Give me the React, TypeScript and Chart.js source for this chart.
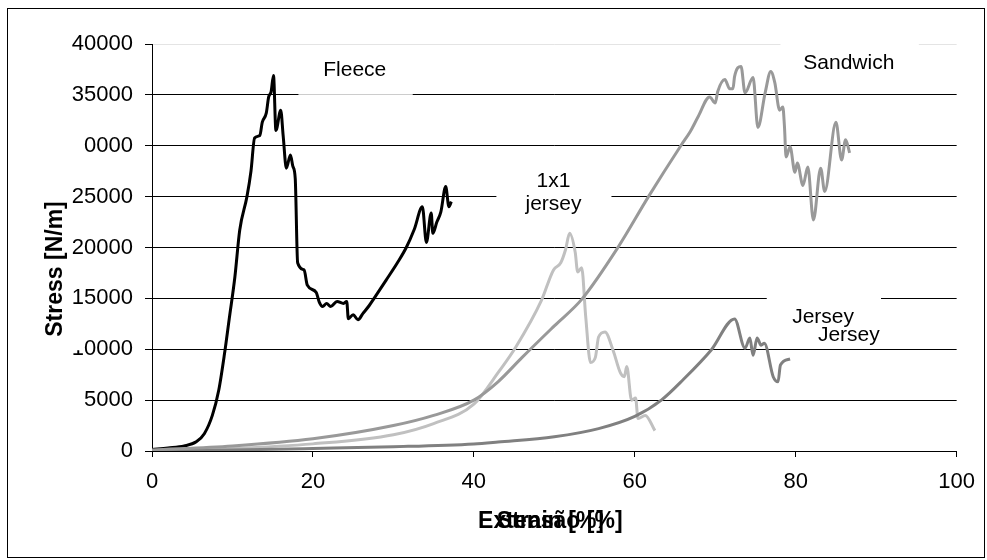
import React, { useEffect, useRef } from "react";
import { Chart, registerables } from "chart.js";

Chart.register(...registerables);

// ---- data ----
const fleeceStrain = [0, 2, 4, 5.5, 6.5, 7.5, 8.3, 9, 9.6, 10.3, 10.9, 11.8, 12.3, 12.75, 13.4, 13.7, 14.2, 14.5, 14.8, 15.1, 15.4, 16.0, 16.3, 16.7, 17.2, 17.5, 17.8, 18.1, 18.9, 19.3, 20.4, 20.8, 21.2, 21.7, 22.2, 23, 23.8, 24.2, 24.4, 25, 25.6, 26.2, 27, 27.6, 29.1, 30.5, 31.6, 32.6, 33.6, 34.1, 34.7, 34.9, 35.4, 35.9, 36.5, 36.9, 37.2];
const fleeceStress = [150, 300, 500, 900, 1700, 3500, 6000, 9500, 13000, 17100, 21700, 25000, 27500, 30770, 31000, 32300, 33200, 34800, 35300, 36900, 31500, 33500, 31000, 27800, 29100, 28000, 26800, 18500, 17800, 16300, 15600, 14600, 14200, 14500, 14200, 14700, 14500, 14700, 13000, 13400, 12900, 13500, 14300, 15000, 16800, 18500, 20000, 21800, 24000, 20500, 23400, 21400, 22500, 23500, 26000, 24000, 24500];

const sandwichStrain = [0, 10, 20, 30, 35, 40, 43, 46, 50, 53.4, 57.9, 61.7, 65.8, 66.9, 67.9, 69.3, 70.0, 70.3, 71.2, 71.8, 72.2, 72.4, 73.2, 73.7, 74.7, 75.3, 76.2, 76.9, 77.4, 78.0, 78.4, 78.6, 78.8, 79.3, 79.9, 80.2, 80.9, 81.5, 82.2, 83.1, 83.6, 85.0, 85.7, 86.2, 86.7];
const sandwichStress = [100, 500, 1200, 2500, 3500, 5000, 6800, 9200, 12300, 14900, 20000, 25000, 30100, 31400, 32900, 34800, 34200, 35300, 36500, 35600, 35600, 36800, 37800, 35200, 36700, 31800, 35200, 37300, 36200, 33500, 33800, 31900, 28900, 29900, 27400, 28300, 26100, 27900, 22700, 27800, 25500, 32300, 28600, 30600, 29300];

const rib1x1Strain = [0, 10, 20, 30, 35, 40, 43.1, 45.2, 48.4, 49.9, 50.8, 51.4, 51.9, 52.6, 52.9, 53.4, 53.9, 54.5, 55.1, 55.5, 56.3, 57.3, 58.2, 58.7, 59.0, 59.6, 60.1, 60.4, 61.3, 62.5];
const rib1x1Stress = [50, 250, 700, 1600, 2700, 4600, 7800, 10200, 14800, 17800, 18500, 19800, 21400, 19500, 17600, 18000, 13200, 8700, 9200, 11200, 11700, 9900, 7700, 7300, 8300, 5000, 5200, 3200, 3500, 2000];

const jerseyStrain = [0, 10, 20, 30, 40, 43, 50, 55.5, 60, 63.3, 66, 69.5, 72.4, 73.7, 74.3, 74.7, 75.2, 75.7, 76.1, 77.2, 77.8, 78.1, 79.3];
const jerseyStress = [0, 100, 250, 420, 700, 890, 1400, 2200, 3400, 5000, 7000, 9930, 12980, 10100, 11100, 9400, 11100, 10400, 10600, 7300, 6800, 8450, 9040];

const yTickLabels = ["0", "5000", "10000", "15000", "20000", "25000", "0000", "35000", "40000"];
const xTitles = ["Extensão [%]", "Strain [%]"];
const yTitle = "Stress [N/m]";

const FONT = "'Liberation Sans', Arial, sans-serif";

export default function App() {
  const ref = useRef<HTMLCanvasElement>(null);

  useEffect(() => {
    const toPts = (xs: number[], ys: number[]) => xs.map((x, i) => ({ x, y: ys[i] }));

    const annot = {
      id: "annot",
      beforeDatasetsDraw(chart: any) {
        const { ctx } = chart;
        const xs = chart.scales.x;
        const ys = chart.scales.y;
        const box = (x0: number, x1: number, y0: number, y1: number, fill: string) => {
          const px0 = xs.getPixelForValue(x0);
          const px1 = xs.getPixelForValue(x1);
          const py0 = ys.getPixelForValue(y0);
          const py1 = ys.getPixelForValue(y1);
          ctx.fillStyle = fill;
          ctx.fillRect(px0, py0, px1 - px0, py1 - py0);
        };
        ctx.save();
        box(18.2, 32.4, 39400, 34500, "rgba(255,255,255,0.8)");
        box(42.8, 57.1, 28400, 21900, "#fff");
        box(78.1, 95.3, 40400, 36000, "#fff");
        box(76.4, 90.6, 16320, 10220, "#fff");

        ctx.fillStyle = "#000";
        ctx.font = `21px ${FONT}`;
        ctx.textAlign = "center";
        ctx.textBaseline = "middle";
        const txt = (s: string, x: number, y: number) =>
          ctx.fillText(s, xs.getPixelForValue(x), ys.getPixelForValue(y));
        txt("Fleece", 25.2, 37450);
        txt("1x1", 49.9, 26540);
        txt("jersey", 49.9, 24280);
        txt("Sandwich", 86.6, 38140);
        txt("Jersey", 83.4, 13170);
        txt("Jersey", 86.6, 11400);
        ctx.restore();
      },
      afterDraw(chart: any) {
        const { ctx, chartArea } = chart;
        const ys = chart.scales.y;
        ctx.save();
        // partially hidden "1" of the 10000 label
        const y10 = ys.getPixelForValue(10000);
        ctx.fillStyle = "#fff";
        ctx.fillRect(68, y10 - 14, 16, 15);

        ctx.fillStyle = "#000";
        ctx.font = `bold 23px ${FONT}`;
        ctx.textAlign = "center";
        ctx.textBaseline = "middle";
        const cx = (chartArea.left + chartArea.right) / 2 - 4;
        xTitles.forEach((t) => ctx.fillText(t, cx, 522));

        ctx.save();
        ctx.translate(56, 269);
        ctx.rotate(-Math.PI / 2);
        ctx.fillText(yTitle, 0, 0);
        ctx.restore();

        ctx.strokeStyle = "#000";
        ctx.lineWidth = 1;
        ctx.strokeRect(7.5, 8.5, 977, 549);
        ctx.restore();
      },
    };

    const common = {
      pointRadius: 0,
      borderWidth: 3,
      fill: false,
      cubicInterpolationMode: "monotone" as const,
    };

    const chart = new Chart(ref.current!, {
      type: "line",
      data: {
        datasets: [
          { ...common, label: "Sandwich", data: toPts(sandwichStrain, sandwichStress), borderColor: "#999999" },
          { ...common, label: "Jersey", data: toPts(jerseyStrain, jerseyStress), borderColor: "#808080" },
          { ...common, label: "1x1 jersey", data: toPts(rib1x1Strain, rib1x1Stress), borderColor: "#c0c0c0" },
          { ...common, label: "Fleece", data: toPts(fleeceStrain, fleeceStress), borderColor: "#000000" },
        ],
      },
      options: {
        responsive: false,
        animation: false,
        events: [],
        layout: { padding: { left: 0, top: 44, right: 25, bottom: 0 } },
        plugins: { legend: { display: false }, tooltip: { enabled: false }, title: { display: false } },
        scales: {
          x: {
            type: "linear",
            min: 0,
            max: 100,
            ticks: { stepSize: 20, color: "#000", font: { family: FONT, size: 22 }, padding: 12, maxRotation: 0 },
            grid: { drawOnChartArea: false, drawTicks: true, tickLength: 6, tickColor: "#000" },
            border: { color: "#000", width: 1 },
            afterFit: (s: any) => { s.height = 109; },
          },
          y: {
            type: "linear",
            min: 0,
            max: 40000,
            ticks: {
              stepSize: 5000,
              color: "#000",
              font: { family: FONT, size: 22 },
              padding: 12,
              callback: (_v: any, i: number) => yTickLabels[i],
            },
            grid: {
              color: (c: any) => (c.tick && c.tick.value === 40000 ? "#e4e4e4" : "#000"),
              lineWidth: 1,
              tickLength: 7,
              tickColor: "#000",
            },
            border: { color: "#000", width: 1 },
            afterFit: (s: any) => { s.width = 152; },
          },
        },
      },
      plugins: [annot],
    });
    return () => chart.destroy();
  }, []);

  return (
    <div style={{ position: "absolute", left: 0, top: 0, width: 987, height: 560, background: "#fff" }}>
      <canvas ref={ref} width={987} height={560} style={{ display: "block" }} />
    </div>
  );
}
